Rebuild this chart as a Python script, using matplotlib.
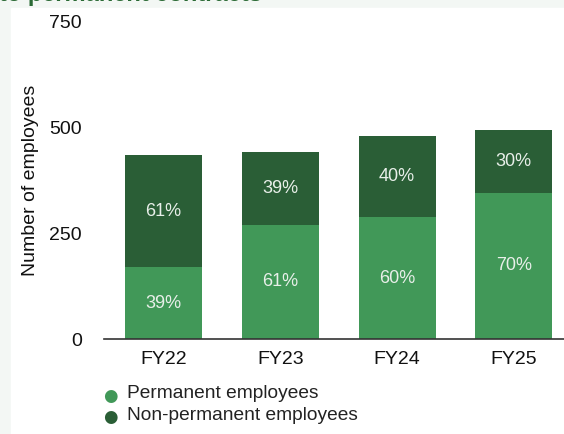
import matplotlib.pyplot as plt
import matplotlib as mpl
import numpy as np

mpl.rcParams["font.family"] = ["Liberation Sans", "DejaVu Sans"]

years = ["FY22", "FY23", "FY24", "FY25"]
permanent = [169, 269, 287, 345]
non_permanent = [265, 172, 191, 148]
perm_pct = ["39%", "61%", "60%", "70%"]
nonperm_pct = ["61%", "39%", "40%", "30%"]

light_green = "#419858"
dark_green = "#2a5e36"

fig = plt.figure(figsize=(5.64, 4.34), dpi=100)
fig.patch.set_facecolor("#f3f7f4")

# white panel behind the chart
panel = mpl.patches.Rectangle((11 / 564, 0), 1, 1 - 8 / 434,
                              transform=fig.transFigure, color="white", zorder=-10)
fig.patches.append(panel)

# title, cut off at the top edge
fig.text(-0.002, 1 - 1.5 / 434, "to permanent contracts", color="#2b6a35",
         fontsize=17, fontweight="bold", va="baseline", ha="left")

ax = fig.add_axes([104 / 564, 1 - 339 / 434, 460 / 564, 318 / 434])
ax.set_facecolor("none")
ax.set_zorder(2)

x = np.arange(len(years))
w = 0.66
ax.bar(x, permanent, w, color=light_green, zorder=2)
ax.bar(x, non_permanent, w, bottom=permanent, color=dark_green, zorder=2)

for i in range(len(years)):
    ax.text(x[i], permanent[i] / 2, perm_pct[i], ha="center", va="center",
            color="#e8efe9", fontsize=13)
    ax.text(x[i], permanent[i] + non_permanent[i] / 2, nonperm_pct[i],
            ha="center", va="center", color="#e8efe9", fontsize=13)

ax.set_xlim(-0.51, 3.43)
ax.set_ylim(0, 750)
ax.set_yticks([0, 250, 500, 750])
ax.set_xticks(x)
ax.set_xticklabels(years)
ax.tick_params(axis="both", length=0, labelsize=14, colors="#111111")
ax.tick_params(axis="x", pad=9)
ax.tick_params(axis="y", pad=16)
for s in ["left", "top", "right"]:
    ax.spines[s].set_visible(False)
ax.spines["bottom"].set_color("#333333")
ax.spines["bottom"].set_linewidth(1.2)

ax.set_ylabel("Number of employees", fontsize=14, color="#111111", labelpad=7)

# legend
fig.text(110 / 564, 1 - 396 / 434, "\u25cf", color=light_green, fontsize=12,
         ha="center", va="center", family="DejaVu Sans")
fig.text(127 / 564, 1 - 394 / 434, "Permanent employees", color="#222222",
         fontsize=13.8, ha="left", va="center")
fig.text(110 / 564, 1 - 417 / 434, "\u25cf", color=dark_green, fontsize=12,
         ha="center", va="center", family="DejaVu Sans")
fig.text(127 / 564, 1 - 415 / 434, "Non-permanent employees", color="#222222",
         fontsize=13.8, ha="left", va="center")

fig.savefig("out.png", dpi=100, facecolor=fig.get_facecolor())
